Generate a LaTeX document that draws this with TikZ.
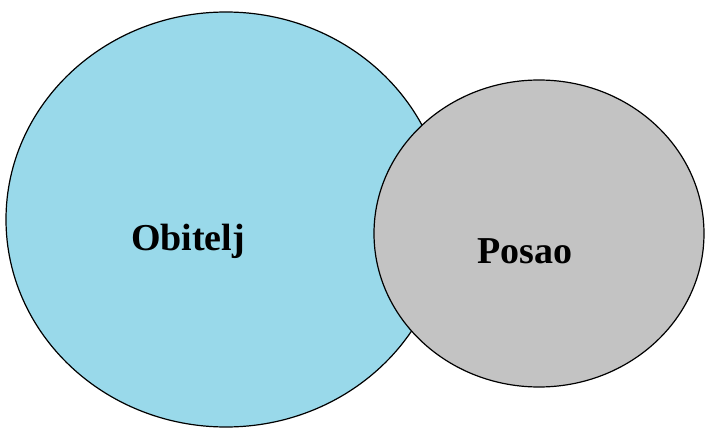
\documentclass[tikz,border=0pt]{standalone}
\usepackage{fontspec}
\setmainfont{Liberation Serif}
\usetikzlibrary{shapes.geometric, positioning}
\definecolor{familyblue}{RGB}{153,217,234}
\definecolor{jobgray}{RGB}{195,195,195}
\tikzset{
        sphere/.style={ellipse, draw=black, line width=1.2pt, inner sep=0pt}, % one area of life
        area label/.style={font=\bfseries\fontsize{38}{40}\selectfont, anchor=base, inner sep=0pt}, % text in an area
    }
\begin{document}
\begin{tikzpicture}[x=1pt, y=-1pt]
    \useasboundingbox (0,0) rectangle (705,428);
    \node[sphere, fill=familyblue, minimum width=440pt, minimum height=415pt] (obitelj) at (226,219.5) {};
    \node[sphere, fill=jobgray, minimum width=330pt, minimum height=307pt] (posao) at (539,233.5) {};
    \node[area label] (obiteljtext) at (188,250) {Obitelj};
    \node[area label] (posaotext) at (524.5,263) {Posao};
  \end{tikzpicture}
\end{document}
